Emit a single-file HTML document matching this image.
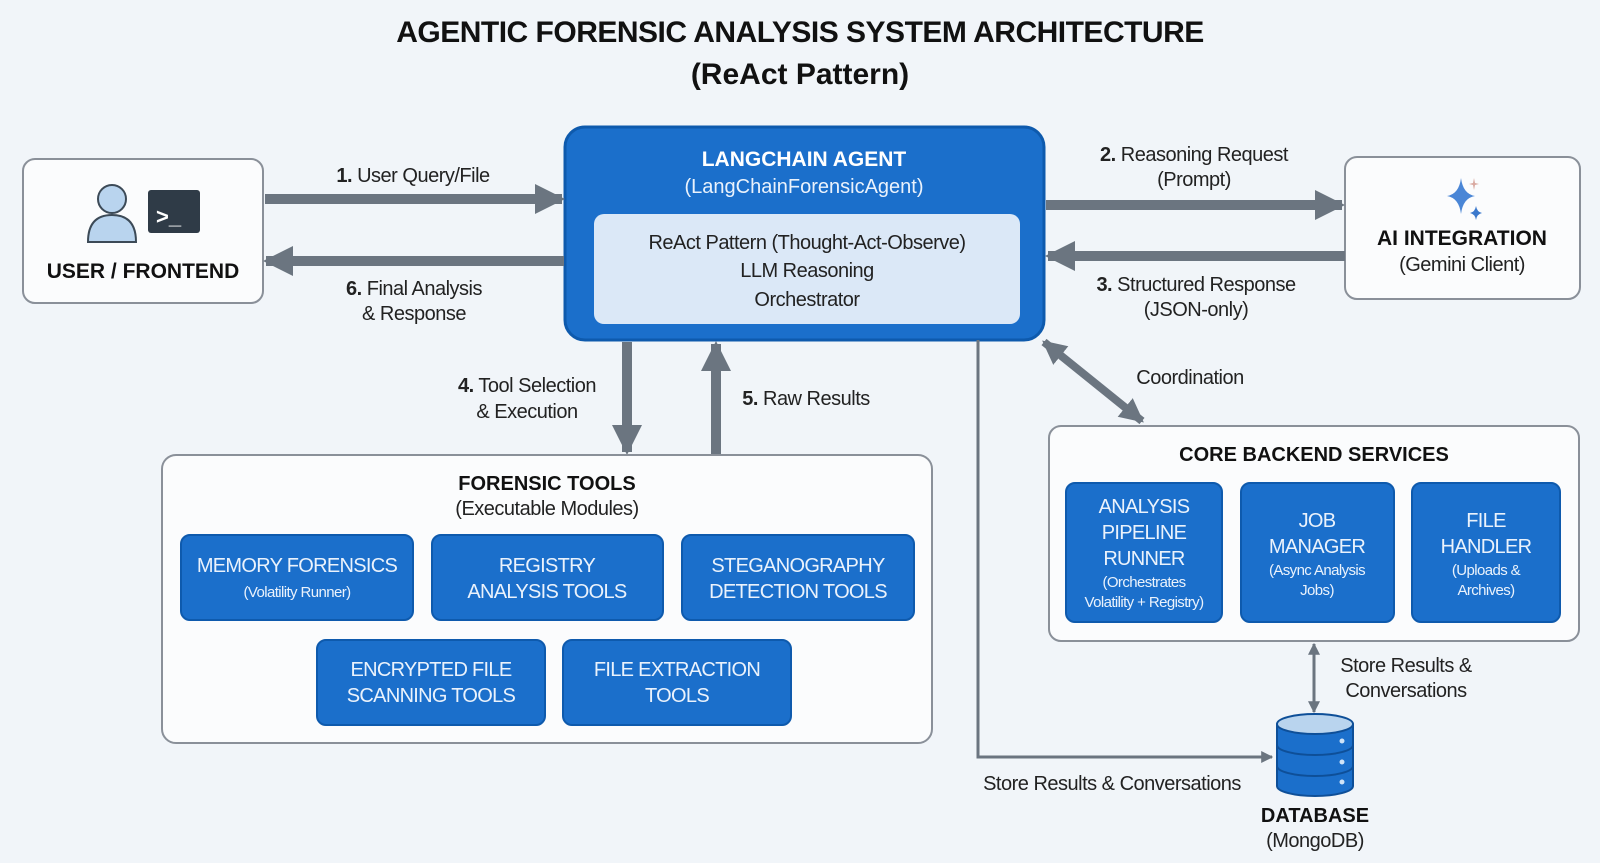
<!DOCTYPE html>
<html><head><meta charset="utf-8"><style>
html,body{margin:0;padding:0;background:#f1f5f9;}
svg{display:block;font-family:"Liberation Sans",sans-serif;}
.lbl{font-size:20px;fill:#222;letter-spacing:-0.5px}
.bw{font-size:20px;fill:#eaf2fc;letter-spacing:-0.7px}
.sw{font-size:15px;fill:#eaf2fc;letter-spacing:-0.6px}
</style></head><body>
<svg width="1600" height="863" viewBox="0 0 1600 863" xmlns="http://www.w3.org/2000/svg">
<defs>
<marker id="ah" viewBox="0 0 10 10" refX="9" refY="5" markerUnits="userSpaceOnUse" markerWidth="30" markerHeight="30" orient="auto-start-reverse"><path d="M0,0 L10,5 L0,10 z" fill="#6b7580"/></marker>
<marker id="ahm" viewBox="0 0 10 10" refX="9" refY="5" markerUnits="userSpaceOnUse" markerWidth="24" markerHeight="24" orient="auto-start-reverse"><path d="M0,0 L10,5 L0,10 z" fill="#6b7580"/></marker>
<marker id="ah2" viewBox="0 0 10 10" refX="9" refY="5" markerUnits="userSpaceOnUse" markerWidth="12" markerHeight="12" orient="auto-start-reverse"><path d="M0,0 L10,5 L0,10 z" fill="#6b7580"/></marker>
</defs>
<rect width="1600" height="863" fill="#f1f5f9"/>
<text x="800" y="42" text-anchor="middle" font-size="30" font-weight="bold" fill="#111" letter-spacing="-0.5">AGENTIC FORENSIC ANALYSIS SYSTEM ARCHITECTURE</text>
<text x="800" y="84" text-anchor="middle" font-size="30" font-weight="bold" fill="#111">(ReAct Pattern)</text>

<rect x="23" y="159" width="240" height="144" rx="12" fill="#fbfcfd" stroke="#8a9099" stroke-width="2"/>
<circle cx="112" cy="199" r="14" fill="#b9d4ee" stroke="#3c4a57" stroke-width="2"/>
<path d="M88,242 Q88,215 112,215 Q136,215 136,242 z" fill="#b9d4ee" stroke="#3c4a57" stroke-width="2"/>
<rect x="148" y="190" width="52" height="43" rx="3" fill="#2f3b47"/>
<text x="156" y="224" font-size="22" font-weight="bold" fill="#fff">&gt;_</text>
<text x="143" y="278" text-anchor="middle" font-size="21" font-weight="bold" fill="#111">USER / FRONTEND</text>

<rect x="565" y="127" width="479" height="213" rx="20" fill="#1b6fcb" stroke="#0e5aad" stroke-width="3"/>
<text x="804" y="166" text-anchor="middle" font-size="21" font-weight="bold" fill="#fff">LANGCHAIN AGENT</text>
<text x="804" y="193" text-anchor="middle" font-size="20" fill="#eaf2fc">(LangChainForensicAgent)</text>
<rect x="594" y="214" width="426" height="110" rx="10" fill="#dbe8f7"/>
<text x="807" y="249" text-anchor="middle" class="lbl">ReAct Pattern (Thought-Act-Observe)</text>
<text x="807" y="277" text-anchor="middle" class="lbl">LLM Reasoning</text>
<text x="807" y="306" text-anchor="middle" class="lbl">Orchestrator</text>

<rect x="1345" y="157" width="235" height="142" rx="12" fill="#fbfcfd" stroke="#8a9099" stroke-width="2"/>
<path d="M1461,178 Q1463,194 1475,196 Q1463,198 1461,214 Q1459,198 1447,196 Q1459,194 1461,178z" fill="#4a86d6"/>
<path d="M1476,206 Q1477,212 1482,213 Q1477,214 1476,220 Q1475,214 1470,213 Q1475,212 1476,206z" fill="#3a78cc"/>
<path d="M1474,178 L1475,183 L1479,184 L1475,185 L1474,190 L1473,185 L1469,184 L1473,183z" fill="#d9a9a0"/>
<text x="1462" y="245" text-anchor="middle" font-size="21" font-weight="bold" fill="#111">AI INTEGRATION</text>
<text x="1462" y="271" text-anchor="middle" class="lbl">(Gemini Client)</text>

<line x1="265" y1="199" x2="562" y2="199" stroke="#6b7580" stroke-width="10" marker-end="url(#ah)"/>
<line x1="564" y1="261" x2="266" y2="261" stroke="#6b7580" stroke-width="10" marker-end="url(#ah)"/>
<line x1="1046" y1="205" x2="1342" y2="205" stroke="#6b7580" stroke-width="10" marker-end="url(#ah)"/>
<line x1="1345" y1="256" x2="1048" y2="256" stroke="#6b7580" stroke-width="10" marker-end="url(#ah)"/>
<line x1="627" y1="342" x2="627" y2="452" stroke="#6b7580" stroke-width="10" marker-end="url(#ah)"/>
<line x1="716" y1="454" x2="716" y2="344" stroke="#6b7580" stroke-width="10" marker-end="url(#ah)"/>
<line x1="1044" y1="342" x2="1142" y2="421" stroke="#6b7580" stroke-width="8" marker-start="url(#ahm)" marker-end="url(#ahm)"/>
<path d="M978,340 L978,757 L1272,757" fill="none" stroke="#6b7580" stroke-width="3" marker-end="url(#ah2)"/>
<line x1="1314" y1="644" x2="1314" y2="712" stroke="#6b7580" stroke-width="3" marker-start="url(#ah2)" marker-end="url(#ah2)"/>

<text x="413" y="182" text-anchor="middle" class="lbl"><tspan font-weight="bold">1.</tspan> User Query/File</text>
<text x="414" y="295" text-anchor="middle" class="lbl"><tspan font-weight="bold">6.</tspan> Final Analysis</text>
<text x="414" y="320" text-anchor="middle" class="lbl">&amp; Response</text>
<text x="1194" y="161" text-anchor="middle" class="lbl"><tspan font-weight="bold">2.</tspan> Reasoning Request</text>
<text x="1194" y="186" text-anchor="middle" class="lbl">(Prompt)</text>
<text x="1196" y="291" text-anchor="middle" class="lbl"><tspan font-weight="bold">3.</tspan> Structured Response</text>
<text x="1196" y="316" text-anchor="middle" class="lbl">(JSON-only)</text>
<text x="527" y="392" text-anchor="middle" class="lbl"><tspan font-weight="bold">4.</tspan> Tool Selection</text>
<text x="527" y="418" text-anchor="middle" class="lbl">&amp; Execution</text>
<text x="806" y="405" text-anchor="middle" class="lbl"><tspan font-weight="bold">5.</tspan> Raw Results</text>
<text x="1190" y="384" text-anchor="middle" class="lbl">Coordination</text>
<text x="1406" y="672" text-anchor="middle" class="lbl">Store Results &amp;</text>
<text x="1406" y="697" text-anchor="middle" class="lbl">Conversations</text>
<text x="1112" y="790" text-anchor="middle" class="lbl">Store Results &amp; Conversations</text>

<rect x="162" y="455" width="770" height="288" rx="14" fill="#fbfcfd" stroke="#8a9099" stroke-width="2"/>
<text x="547" y="490" text-anchor="middle" font-size="20" font-weight="bold" fill="#111">FORENSIC TOOLS</text>
<text x="547" y="515" text-anchor="middle" class="lbl">(Executable Modules)</text>
<g fill="#1b6fcb" stroke="#0e5aad" stroke-width="2">
<rect x="181" y="535" width="232" height="85" rx="9"/>
<rect x="432" y="535" width="231" height="85" rx="9"/>
<rect x="682" y="535" width="232" height="85" rx="9"/>
<rect x="317" y="640" width="228" height="85" rx="9"/>
<rect x="563" y="640" width="228" height="85" rx="9"/>
</g>
<text x="297" y="572" text-anchor="middle" class="bw">MEMORY FORENSICS</text>
<text x="297" y="597" text-anchor="middle" class="sw">(Volatility Runner)</text>
<text x="547" y="572" text-anchor="middle" class="bw">REGISTRY</text>
<text x="547" y="598" text-anchor="middle" class="bw">ANALYSIS TOOLS</text>
<text x="798" y="572" text-anchor="middle" class="bw">STEGANOGRAPHY</text>
<text x="798" y="598" text-anchor="middle" class="bw">DETECTION TOOLS</text>
<text x="431" y="676" text-anchor="middle" class="bw">ENCRYPTED FILE</text>
<text x="431" y="702" text-anchor="middle" class="bw">SCANNING TOOLS</text>
<text x="677" y="676" text-anchor="middle" class="bw">FILE EXTRACTION</text>
<text x="677" y="702" text-anchor="middle" class="bw">TOOLS</text>

<rect x="1049" y="426" width="530" height="215" rx="12" fill="#fbfcfd" stroke="#8a9099" stroke-width="2"/>
<text x="1314" y="461" text-anchor="middle" font-size="20" font-weight="bold" fill="#111">CORE BACKEND SERVICES</text>
<g fill="#1b6fcb" stroke="#0e5aad" stroke-width="2">
<rect x="1066" y="483" width="156" height="139" rx="9"/>
<rect x="1241" y="483" width="153" height="139" rx="9"/>
<rect x="1412" y="483" width="148" height="139" rx="9"/>
</g>
<text x="1144" y="513" text-anchor="middle" class="bw">ANALYSIS</text>
<text x="1144" y="539" text-anchor="middle" class="bw">PIPELINE</text>
<text x="1144" y="565" text-anchor="middle" class="bw">RUNNER</text>
<text x="1144" y="587" text-anchor="middle" class="sw">(Orchestrates</text>
<text x="1144" y="607" text-anchor="middle" class="sw">Volatility + Registry)</text>
<text x="1317" y="527" text-anchor="middle" class="bw">JOB</text>
<text x="1317" y="553" text-anchor="middle" class="bw">MANAGER</text>
<text x="1317" y="575" text-anchor="middle" class="sw">(Async Analysis</text>
<text x="1317" y="595" text-anchor="middle" class="sw">Jobs)</text>
<text x="1486" y="527" text-anchor="middle" class="bw">FILE</text>
<text x="1486" y="553" text-anchor="middle" class="bw">HANDLER</text>
<text x="1486" y="575" text-anchor="middle" class="sw">(Uploads &amp;</text>
<text x="1486" y="595" text-anchor="middle" class="sw">Archives)</text>

<g stroke="#0e4f98" stroke-width="2">
<path d="M1277,724 L1277,786 A38,10 0 0 0 1353,786 L1353,724" fill="#1b6fcb"/>
<path d="M1277,745 A38,10 0 0 0 1353,745 M1277,766 A38,10 0 0 0 1353,766" fill="none"/>
<ellipse cx="1315" cy="724" rx="38" ry="10" fill="#b9d4ee"/>
</g>
<circle cx="1342" cy="741" r="2.5" fill="#cfe3f7"/>
<circle cx="1342" cy="762" r="2.5" fill="#cfe3f7"/>
<circle cx="1342" cy="782" r="2.5" fill="#cfe3f7"/>
<text x="1315" y="822" text-anchor="middle" font-size="20" font-weight="bold" fill="#111">DATABASE</text>
<text x="1315" y="847" text-anchor="middle" class="lbl">(MongoDB)</text>
</svg>
</body></html>
